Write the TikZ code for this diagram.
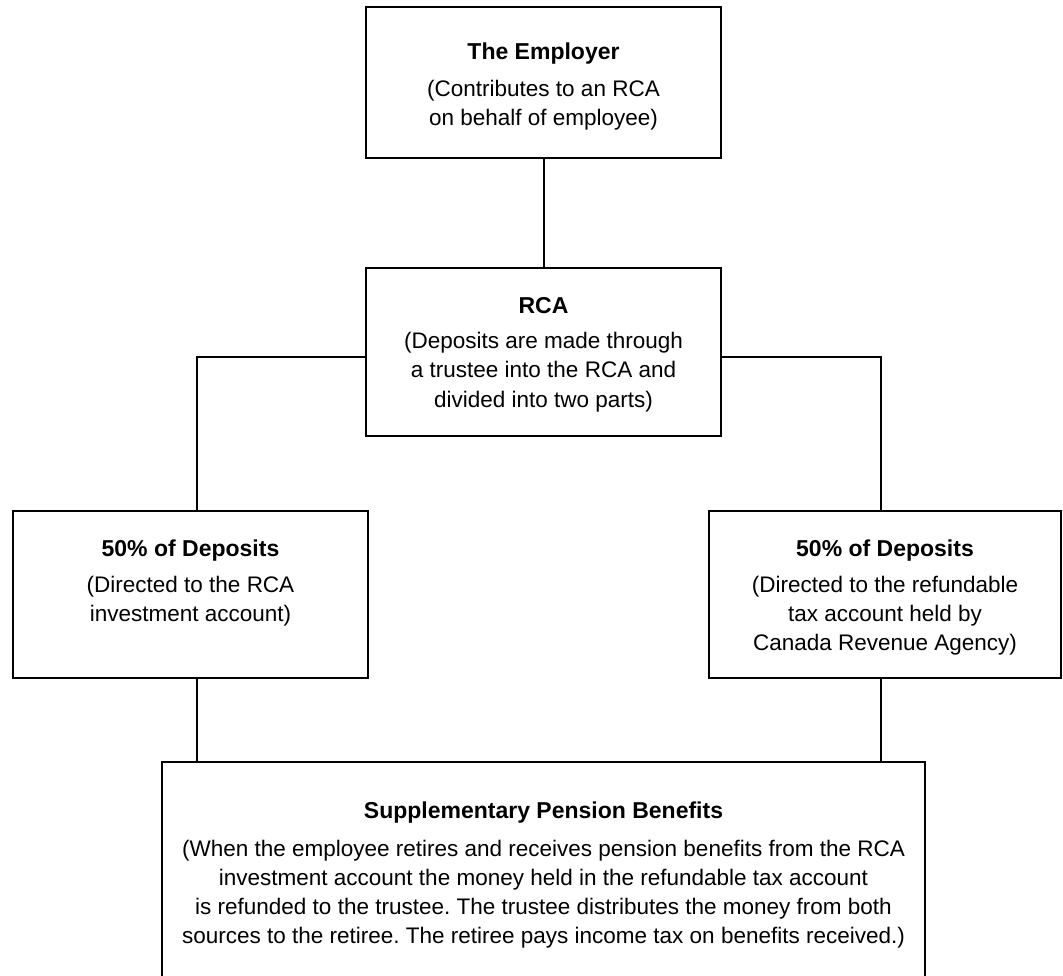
\documentclass[tikz,border=0pt]{standalone}
\usepackage{fontspec}
\setmainfont{Liberation Sans}
\frenchspacing
\newcommand{\boxtxt}[4]{\raisebox{#1}[\height][\depth]{\begin{tabular}{@{}c@{}}{\fontsize{23}{29}\selectfont\bfseries #3}\\[#2]#4\end{tabular}}}
\begin{document}
\frenchspacing
\begin{tikzpicture}[x=1pt,y=-1pt,
  box/.style={draw, line width=2pt, rectangle, inner sep=0pt, outer sep=0pt,
    align=center, font=\fontsize{22.5}{29}\selectfont},
  link/.style={line width=2pt}]
\useasboundingbox (0,0) rectangle (1063,976);
\node[box, minimum width=355pt, minimum height=151pt] (emp) at (543.5,82.5)
  {\boxtxt{-4.7pt}{8pt}{The Employer}{(Contributes to an RCA\\on behalf of employee)}};
\node[box, minimum width=355pt, minimum height=168pt] (rca) at (543.5,352)
  {\boxtxt{-2.7pt}{6pt}{RCA}{(Deposits are made through\\a trustee into the RCA and\\divided into two parts)}};
\node[box, minimum width=355pt, minimum height=167pt] (dl) at (190.5,594.5)
  {\boxtxt{11.8pt}{7pt}{50\% of Deposits}{(Directed to the RCA\\investment account)}};
\node[box, minimum width=352pt, minimum height=167pt] (dr) at (885,594.5)
  {\boxtxt{-2.7pt}{7pt}{50\% of Deposits}{(Directed to the refundable\\tax account held by\\Canada Revenue Agency)}};
\node[box, minimum width=763pt, minimum height=218pt] (sup) at (543.5,871)
  {\boxtxt{-3.7pt}{9pt}{Supplementary Pension Benefits}{(When the employee retires and receives pension benefits from the RCA\\investment account the money held in the refundable tax account\\is refunded to the trustee. The trustee distributes the money from both\\sources to the retiree. The retiree pays income tax on benefits received.)}};
\draw[link] (emp) -- (rca);
\draw[link] ([yshift=-5pt]rca.west) -| ([xshift=6.5pt]dl.north);
\draw[link] ([yshift=-5pt]rca.east) -| ([xshift=-4pt]dr.north);
\draw[link] ([xshift=6.5pt]dl.south) -- ([xshift=6.5pt]dl.south |- sup.north);
\draw[link] ([xshift=-4pt]dr.south) -- ([xshift=-4pt]dr.south |- sup.north);
\end{tikzpicture}
\end{document}
